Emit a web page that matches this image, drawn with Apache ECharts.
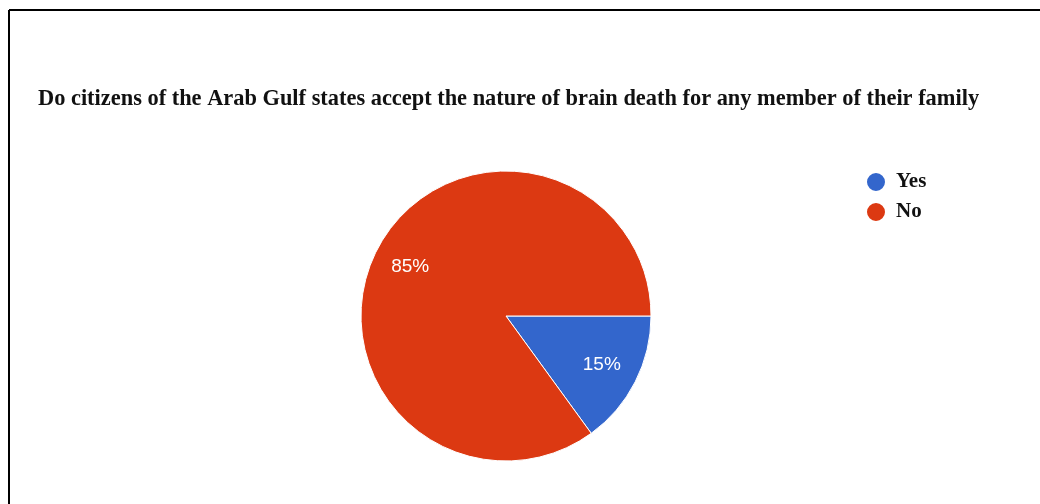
<!DOCTYPE html>
<html>
<head>
<meta charset="utf-8">
<script src="https://cdn.jsdelivr.net/npm/echarts@6/dist/echarts.min.js"></script>
<style>
  html, body { margin: 0; padding: 0; background: #fff; }
  #chart { width: 1040px; height: 504px; }
</style>
</head>
<body>
<div id="chart"></div>
<script>
const titleText = 'Do citizens of the Arab Gulf states accept the nature of brain death for any member of their family';
const categories = ['Yes', 'No'];
const shares = [15, 85];
const colors = ['#3366cc', '#dc3912'];

const pieData = categories.map((name, i) => ({ name, value: shares[i] }));

const chart = echarts.init(document.getElementById('chart'), null, { renderer: 'canvas' });

const center = [506, 316];
const radius = 145;

chart.setOption({
  animation: false,
  color: colors,
  title: {
    text: titleText,
    left: 33,
    top: 83,
    textStyle: {
      fontFamily: 'Liberation Serif',
      fontWeight: 'bold',
      fontSize: 22.4,
      color: '#111'
    }
  },
  legend: {
    orient: 'vertical',
    left: 860,
    top: 166,
    icon: 'circle',
    itemWidth: 20,
    itemHeight: 20,
    itemGap: 8,
    data: categories,
    textStyle: {
      fontFamily: 'Liberation Serif',
      fontWeight: 'bold',
      fontSize: 21,
      color: '#111',
      padding: [0, 0, 0, 5]
    }
  },
  graphic: [
    { type: 'line', shape: { x1: 9, y1: 10, x2: 1040, y2: 10 }, style: { stroke: '#000', lineWidth: 2 } },
    { type: 'line', shape: { x1: 9, y1: 10, x2: 9, y2: 504 }, style: { stroke: '#000', lineWidth: 2 } }
  ],
  series: [
    {
      type: 'pie',
      center: center,
      radius: [0, radius],
      startAngle: 0,
      clockwise: true,
      data: pieData,
      label: { show: false },
      labelLine: { show: false },
      itemStyle: { borderColor: '#fff', borderWidth: 1 },
      emphasis: { disabled: true }
    },
    {
      // transparent ring that only carries the percentage labels
      type: 'pie',
      center: center,
      radius: [64, radius],
      startAngle: 0,
      clockwise: true,
      silent: true,
      data: pieData,
      itemStyle: { color: 'rgba(0,0,0,0)' },
      label: {
        show: true,
        position: 'inside',
        formatter: '{c}%',
        color: '#fff',
        fontFamily: 'Liberation Sans',
        fontSize: 19
      },
      labelLine: { show: false },
      emphasis: { disabled: true }
    }
  ]
});
</script>
</body>
</html>
